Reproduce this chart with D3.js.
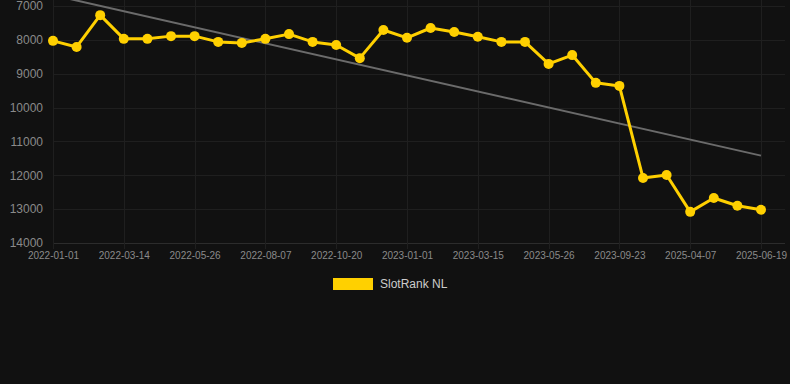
<!DOCTYPE html>
<html>
<head>
<meta charset="utf-8">
<script src="https://cdn.jsdelivr.net/npm/d3@7"></script>
<style>
  html, body { margin: 0; padding: 0; background: #111111; }
  #chart { width: 790px; height: 384px; }
  text { font-family: "Liberation Sans", Arial, sans-serif; }
</style>
</head>
<body>
<div id="chart"></div>
<script>
// dates shown on the x axis (every third point is labelled)
var dates = [
  "2022-01-01", "2022-01-25", "2022-02-18",
  "2022-03-14", "2022-04-07", "2022-05-01",
  "2022-05-26", "2022-06-19", "2022-07-13",
  "2022-08-07", "2022-08-31", "2022-09-25",
  "2022-10-20", "2022-11-13", "2022-12-07",
  "2023-01-01", "2023-01-25", "2023-02-18",
  "2023-03-15", "2023-04-08", "2023-05-02",
  "2023-05-26", "2023-07-15", "2023-08-19",
  "2023-09-23", "2024-11-10", "2025-02-20",
  "2025-04-07", "2025-05-01", "2025-05-25",
  "2025-06-19"
];

// SlotRank NL rank values
var ranks = [
  8030, 8210, 7270,
  7970, 7970, 7890,
  7890, 8060, 8090,
  7970, 7830, 8060,
  8150, 8540, 7710,
  7940, 7650, 7770,
  7910, 8060, 8060,
  8710, 8450, 9270,
  9360, 12080, 11990,
  13080, 12670, 12900,
  13020
];

// linear trend, value at first and last point
var trend = [6680, 11420];

var yTicks = [7000, 8000, 9000, 10000, 11000, 12000, 13000, 14000];
var seriesName = "SlotRank NL";

var width = 790, height = 384;
var margin = { left: 53, right: 29, top: 6, bottom: 141 };
var lastX = 761;

var svg = d3.select("#chart").append("svg")
  .attr("width", width)
  .attr("height", height);

svg.append("rect").attr("width", width).attr("height", height).attr("fill", "#111111");

var x = d3.scalePoint()
  .domain(dates)
  .range([margin.left, lastX]);

var y = d3.scaleLinear()
  .domain([7000, 14000])
  .range([margin.top, height - margin.bottom]);

// grid
var grid = svg.append("g");
grid.selectAll(".hgrid")
  .data(yTicks)
  .enter().append("line")
  .attr("x1", margin.left)
  .attr("x2", width - 5)
  .attr("y1", function (d) { return Math.round(y(d)) + 0.5; })
  .attr("y2", function (d) { return Math.round(y(d)) + 0.5; })
  .attr("stroke", function (d) { return d === 14000 ? "#2c2c2c" : "#1f1f1f"; })
  .attr("stroke-width", 1);

var labelled = dates.filter(function (d, i) { return i % 3 === 0; });

grid.selectAll(".vgrid")
  .data(labelled)
  .enter().append("line")
  .attr("x1", function (d) { return Math.round(x(d)) + 0.5; })
  .attr("x2", function (d) { return Math.round(x(d)) + 0.5; })
  .attr("y1", 0)
  .attr("y2", y(14000) + 6)
  .attr("stroke", "#1f1f1f")
  .attr("stroke-width", 1);

// y axis labels
var yAxis = svg.append("g")
  .attr("transform", "translate(" + (margin.left - 10) + ",0)")
  .call(d3.axisLeft(y).tickValues(yTicks).tickFormat(d3.format("d")).tickSize(0).tickPadding(0));
yAxis.select(".domain").remove();
yAxis.selectAll("text")
  .attr("fill", "#8a8a8a")
  .style("font-size", "12px")
  .style("font-family", "'Liberation Sans', Arial, sans-serif");

// x axis labels
var xAxis = svg.append("g")
  .attr("transform", "translate(0," + (y(14000) + 9) + ")")
  .call(d3.axisBottom(x).tickValues(labelled).tickSize(0).tickPadding(0));
xAxis.select(".domain").remove();
xAxis.selectAll("text")
  .attr("fill", "#8a8a8a")
  .style("font-size", "10px")
  .style("font-family", "'Liberation Sans', Arial, sans-serif");

// trend line
svg.append("line")
  .attr("x1", x(dates[0]))
  .attr("y1", y(trend[0]))
  .attr("x2", x(dates[dates.length - 1]))
  .attr("y2", y(trend[1]))
  .attr("stroke", "#6b6b6b")
  .attr("stroke-width", 2);

// series
var line = d3.line()
  .x(function (d, i) { return x(dates[i]); })
  .y(function (d) { return y(d); });

svg.append("path")
  .datum(ranks)
  .attr("d", line)
  .attr("fill", "none")
  .attr("stroke", "#FFD000")
  .attr("stroke-width", 3)
  .attr("stroke-linejoin", "round");

svg.selectAll(".pt")
  .data(ranks)
  .enter().append("circle")
  .attr("cx", function (d, i) { return x(dates[i]); })
  .attr("cy", function (d) { return y(d); })
  .attr("r", 5)
  .attr("fill", "#FFD000");

// legend
var legend = svg.append("g").attr("transform", "translate(333,278)");
legend.append("rect")
  .attr("width", 40)
  .attr("height", 12)
  .attr("fill", "#FFD000");
legend.append("text")
  .attr("x", 47)
  .attr("y", 10)
  .attr("fill", "#cccccc")
  .style("font-size", "12px")
  .text(seriesName);
</script>
</body>
</html>
